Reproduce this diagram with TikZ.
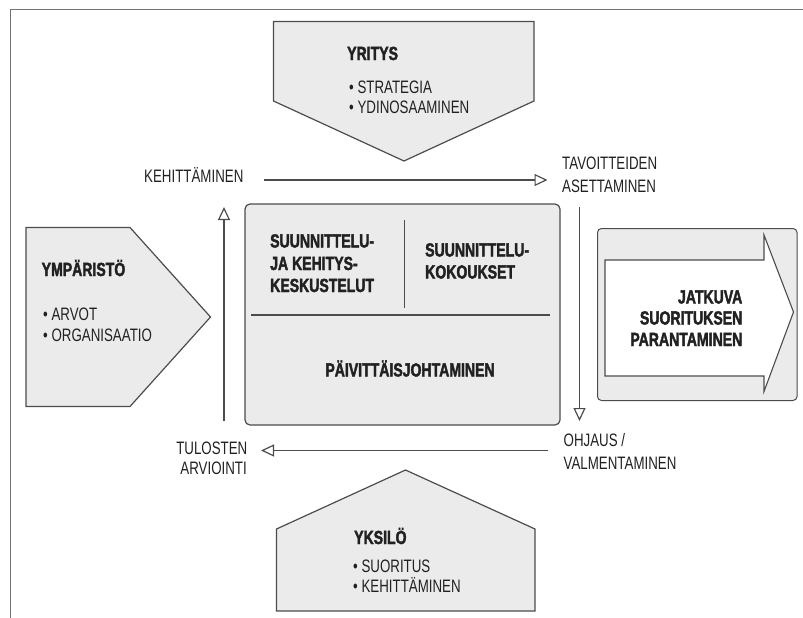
\documentclass[tikz,border=0pt]{standalone}
\usepackage{fontspec}
\setmainfont{Liberation Sans}[FakeStretch=0.74, BoldFeatures={FakeBold=2}]
\usetikzlibrary{arrows.meta}
\definecolor{panelfill}{rgb}{0.92,0.92,0.92}
\definecolor{inkline}{rgb}{0.30,0.30,0.30}
\definecolor{inktext}{rgb}{0.13,0.13,0.13}
\definecolor{framecol}{rgb}{0.45,0.45,0.45}
\tikzset{
  panel/.style={draw=inkline, fill=panelfill, line width=1.2pt, line join=miter},
  divider/.style={draw=inkline, line width=1.2pt},
  flow/.style={draw=inkline, line width=1.1pt,
    -{Triangle[open, length=13pt, width=12pt, line width=1.2pt]}},
  lbl/.style={inner sep=0pt, text=inktext, font=\fontsize{18}{20}\selectfont},
  head/.style={inner sep=0pt, text=inktext, font=\fontsize{19}{22}\selectfont\bfseries},
}
\begin{document}
\begin{tikzpicture}[x=1pt, y=-1pt]
\useasboundingbox (0,0) rectangle (803,618);

% page frame
\draw[framecol, line width=1pt] (10.5,618) -- (10.5,10) -- (803,10);

% YRITYS: pentagon pointing down
\draw[panel] (273.5,21.5) -- (534,21.5) -- (534,101) -- (404,161) -- (273.5,101) -- cycle;
\node[head, anchor=base west] (yritys) at (347,60) {YRITYS};
\node[lbl, anchor=base west] (yr1) at (349,93) {• STRATEGIA};
\node[lbl, anchor=base west] (yr2) at (349,113) {• YDINOSAAMINEN};

% YMPÄRISTÖ: pentagon pointing right
\draw[panel] (26,227.5) -- (130,227.5) -- (210.5,317) -- (130,406.5) -- (26,406.5) -- cycle;
\node[head, anchor=base west] (ymparisto) at (41.5,276) {YMPÄRISTÖ};
\node[lbl, anchor=base west] (ym1) at (43,320.5) {• ARVOT};
\node[lbl, anchor=base west] (ym2) at (43,341) {• ORGANISAATIO};

% YKSILÖ: house shape pointing up
\draw[panel] (276.5,611) -- (276.5,529) -- (405.5,470) -- (535,529) -- (535,611) -- cycle;
\node[head, anchor=base west] (yksilo) at (354,544) {YKSILÖ};
\node[lbl, anchor=base west] (yk1) at (353,572) {• SUORITUS};
\node[lbl, anchor=base west] (yk2) at (353,592) {• KEHITTÄMINEN};

% central management box
\draw[panel, rounded corners=5pt] (245,204) rectangle (560,425);
\draw[divider] (404.5,220) -- (404.5,308);
\draw[divider] (251,315) -- (549.5,315);
\node[head, anchor=base west] (c1a) at (270,247.5) {SUUNNITTELU-};
\node[head, anchor=base west] (c1b) at (270,270) {JA KEHITYS-};
\node[head, anchor=base west] (c1c) at (270,292) {KESKUSTELUT};
\node[head, anchor=base west] (c2a) at (425,256.5) {SUUNNITTELU-};
\node[head, anchor=base west] (c2b) at (425,278.5) {KOKOUKSET};
\node[head, anchor=base] (daily) at (410,376.5) {PÄIVITTÄISJOHTAMINEN};

% continuous improvement box with inner arrow
\draw[panel, rounded corners=4pt, line width=1pt] (597.5,228.5) rectangle (797,400.5);
\draw[draw=inkline, fill=white, line width=1.1pt, line join=miter]
  (605,260) -- (764,260) -- (764,235) -- (793.5,312) -- (764,391.5) -- (764,376) -- (605,376) -- cycle;
\node[head, anchor=base east] (r1) at (742.5,303.5) {JATKUVA};
\node[head, anchor=base east] (r2) at (742.5,324.5) {SUORITUKSEN};
\node[head, anchor=base east] (r3) at (742.5,346) {PARANTAMINEN};

% cycle labels
\node[lbl, anchor=base west] (keh) at (144,182.5) {KEHITTÄMINEN};
\node[lbl, anchor=base west] (tav1) at (562,169) {TAVOITTEIDEN};
\node[lbl, anchor=base west] (tav2) at (562,192) {ASETTAMINEN};
\node[lbl, anchor=base west] (ohj1) at (563.5,446.5) {OHJAUS /};
\node[lbl, anchor=base west] (ohj2) at (563.5,469) {VALMENTAMINEN};
\node[lbl, anchor=base east] (tul1) at (247.5,454) {TULOSTEN};
\node[lbl, anchor=base east] (tul2) at (247,474) {ARVIOINTI};

% cycle arrow end points
\coordinate (kehEnd) at (264,180);
\coordinate (tavEnd) at (547.5,180);
\coordinate (tavDown) at (579.5,207);
\coordinate (ohjUp) at (579.5,421);
\coordinate (ohjEnd) at (548,450.5);
\coordinate (tulEnd) at (261,450.5);
\coordinate (tulUp) at (224,421);
\coordinate (kehDown) at (224,207);

% cycle arrows
\draw[flow] (kehEnd) -- (tavEnd);
\draw[flow] (tavDown) -- (ohjUp);
\draw[flow] (ohjEnd) -- (tulEnd);
\draw[flow] (tulUp) -- (kehDown);
\end{tikzpicture}
\end{document}
